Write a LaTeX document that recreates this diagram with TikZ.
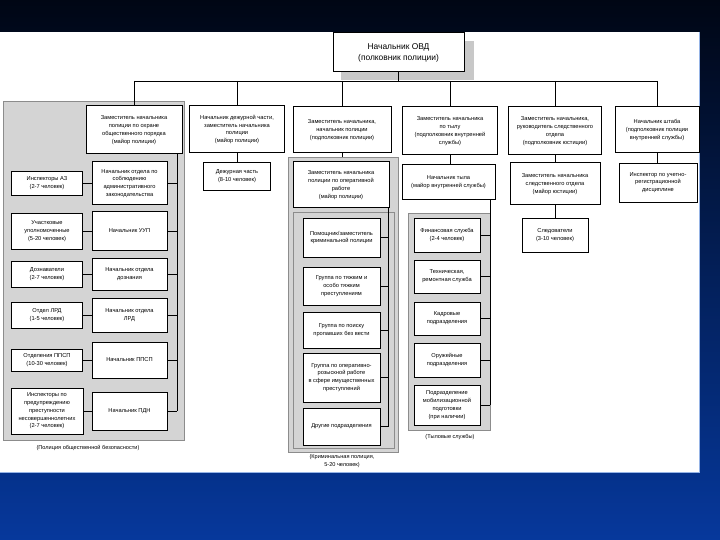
\documentclass[tikz,border=0pt]{standalone}
\usepackage{fontspec}
\setmainfont{Liberation Sans}
\definecolor{bgtop}{RGB}{0,6,20}
\definecolor{bgbot}{RGB}{6,56,156}
\definecolor{grp}{RGB}{212,212,212}
\definecolor{grpline}{RGB}{140,140,140}
\definecolor{shadowc}{RGB}{200,200,200}
\tikzset{
  box/.style={draw=black, fill=white, align=center, inner sep=1pt, line width=0.5pt,
    font=\fontsize{5.7}{7.8}\selectfont},
  tbox/.style={box, line width=1pt},
  conn/.style={line width=0.7pt, black},
  grpbox/.style={fill=grp, draw=grpline, line width=0.6pt},
  lbl/.style={align=center, inner sep=0pt, font=\fontsize{5.6}{8.4}\selectfont}
}
\begin{document}
\begin{tikzpicture}[x=1pt,y=-1pt]
\useasboundingbox (0,0) rectangle (720,540);
\shade[top color=bgtop, bottom color=bgbot] (0,0) rectangle (720,540);
\fill[white] (0,32) rectangle (699,472);
\draw[line width=0.8pt, color={rgb,255:red,150;green,180;blue,230}] (699,32) -- (699,472) -- (0,472);

% groups
\draw[grpbox] (3,101) rectangle (184,440);
\draw[grpbox] (288,157) rectangle (398,452);
\draw[draw=grpline, line width=0.6pt] (293,212) rectangle (394,448);
\draw[grpbox] (408,213) rectangle (490,430);

% top
\fill[shadowc] (341,41) rectangle (474,80);
\node[tbox, minimum width=131, minimum height=39, font=\fontsize{8.4}{11}\selectfont] (top) at (398.5,52.5) {Начальник ОВД\\(полковник полиции)};

% row 1
\node[tbox, minimum width=96, minimum height=48] (b1) at (134,130) {Заместитель начальника\\полиции по охране\\общественного порядка\\(майор полиции)};
\node[tbox, minimum width=95, minimum height=47] (b2) at (237,129.5) {Начальник дежурной части,\\заместитель начальника\\полиции\\(майор полиции)};
\node[tbox, minimum width=98, minimum height=46] (b3) at (342,130) {Заместитель начальника,\\начальник полиции\\(подполковник полиции)};
\node[tbox, minimum width=95, minimum height=48] (b4) at (450,131) {Заместитель начальника\\по тылу\\(подполковник внутренней\\службы)};
\node[tbox, minimum width=93, minimum height=48] (b5) at (555,131) {Заместитель начальника,\\руководитель следственного\\отдела\\(подполковник юстиции)};
\node[tbox, minimum width=84, minimum height=46] (b6) at (657,130) {Начальник штаба\\(подполковник полиции\\внутренней службы)};

\coordinate (bus) at (0,81);
\draw[conn] (top.south) -- (top.south |- bus);
\draw[conn] (b1.north |- bus) -- (b6.north |- bus);
\foreach \n in {b1,b2,b3,b4,b5,b6} \draw[conn] (\n.north |- bus) -- (\n.north);

% left column
\node[tbox, minimum width=75, minimum height=43] (h1) at (129.5,183.5) {Начальник отдела по\\соблюдению\\административного\\законодательства};
\node[tbox, minimum width=75, minimum height=38] (h2) at (129.5,231) {Начальник УУП};
\node[tbox, minimum width=75, minimum height=32] (h3) at (129.5,274) {Начальник отдела\\дознания};
\node[tbox, minimum width=75, minimum height=34] (h4) at (129.5,315) {Начальник отдела\\ЛРД};
\node[tbox, minimum width=75, minimum height=36] (h5) at (129.5,360) {Начальник ППСП};
\node[tbox, minimum width=75, minimum height=38] (h6) at (129.5,411) {Начальник ПДН};

\node[box, minimum width=71, minimum height=24] (s1) at (47,183.5) {Инспекторы АЗ\\(2-7 человек)};
\node[box, minimum width=71, minimum height=36] (s2) at (47,231) {Участковые\\уполномоченные\\(5-20 человек)};
\node[box, minimum width=71, minimum height=26] (s3) at (47,274) {Дознаватели\\(2-7 человек)};
\node[box, minimum width=71, minimum height=26] (s4) at (47,315) {Отдел ЛРД\\(1-5 человек)};
\node[box, minimum width=71, minimum height=22] (s5) at (47,360) {Отделения ППСП\\(10-30 человек)};
\node[box, minimum width=72, minimum height=46] (s6) at (47,411) {Инспекторы по\\предупреждению\\преступности\\несовершеннолетних\\(2-7 человек)};

\coordinate (lv) at (177,0);
\draw[conn] (b1.south -| lv) -- (h6.east -| lv);
\foreach \i in {1,...,6} {
  \draw[conn] (h\i.east) -- (h\i.east -| lv);
  \draw[conn] (s\i.east) -- (h\i.west);
}
\node[lbl] (l1) at (88,448) {(Полиция общественной безопасности)};

% column 2
\node[box, minimum width=67, minimum height=28] (d1) at (237,176) {Дежурная часть\\(8-10 человек)};
\draw[conn] (b2.south) -- (d1.north);

% column 3
\node[tbox, minimum width=96, minimum height=46] (c3d) at (341,185) {Заместитель начальника\\полиции по оперативной\\работе\\(майор полиции)};
\draw[conn] (b3.south) -- (b3.south |- 0,157);
\node[box, minimum width=77, minimum height=39] (w1) at (341.5,237.5) {Помощник/заместитель\\криминальной полиции};
\node[box, minimum width=77, minimum height=38] (w2) at (341.5,286) {Группа по тяжким и\\особо тяжким\\преступлениям};
\node[box, minimum width=77, minimum height=36] (w3) at (341.5,330) {Группа по поиску\\пропавших без вести};
\node[box, minimum width=77, minimum height=49] (w4) at (341.5,377.5) {Группа по оперативно-\\розыскной работе\\в сфере имущественных\\преступлений};
\node[box, minimum width=77, minimum height=37] (w5) at (341.5,426.5) {Другие подразделения};
\coordinate (v3) at (388,0);
\draw[conn] (c3d.south -| v3) -- (w5.east -| v3);
\foreach \i in {1,...,5} \draw[conn] (w\i.east) -- (w\i.east -| v3);
\node[lbl] (l3) at (342,461) {(Криминальная полиция,\\5-20 человек)};

% column 4
\node[tbox, minimum width=93, minimum height=35] (t1) at (448.5,182.5) {Начальник тыла\\(майор внутренней службы)};
\draw[conn] (b4.south) -- (b4.south |- t1.north);
\node[box, minimum width=66, minimum height=34] (f1) at (447,235) {Финансовая служба\\(2-4 человек)};
\node[box, minimum width=66, minimum height=33] (f2) at (447,276.5) {Техническая,\\ремонтная служба};
\node[box, minimum width=66, minimum height=33] (f3) at (447,318.5) {Кадровые\\подразделения};
\node[box, minimum width=66, minimum height=34] (f4) at (447,360) {Оружейные\\подразделения};
\node[box, minimum width=66, minimum height=40] (f5) at (447,405) {Подразделение\\мобилизационной\\подготовки\\(при наличии)};
\coordinate (v4) at (490,0);
\draw[conn] (t1.south -| v4) -- (f5.east -| v4);
\foreach \i in {1,...,5} \draw[conn] (f\i.east) -- (f\i.east -| v4);
\node[lbl] (l4) at (450,437) {(Тыловые службы)};

% column 5
\node[tbox, minimum width=90, minimum height=42] (e1) at (555,184) {Заместитель начальника\\следственного отдела\\(майор юстиции)};
\node[box, minimum width=66, minimum height=34] (e2) at (555,235) {Следователи\\(3-10 человек)};
\draw[conn] (b5.south) -- (e1.north);
\draw[conn] (e1.south) -- (e2.north);

% column 6
\node[box, minimum width=78, minimum height=39] (i1) at (658,182.5) {Инспектор по учетно-\\регистрационной\\дисциплине};
\draw[conn] (b6.south) -- (b6.south |- i1.north);
\end{tikzpicture}
\end{document}
